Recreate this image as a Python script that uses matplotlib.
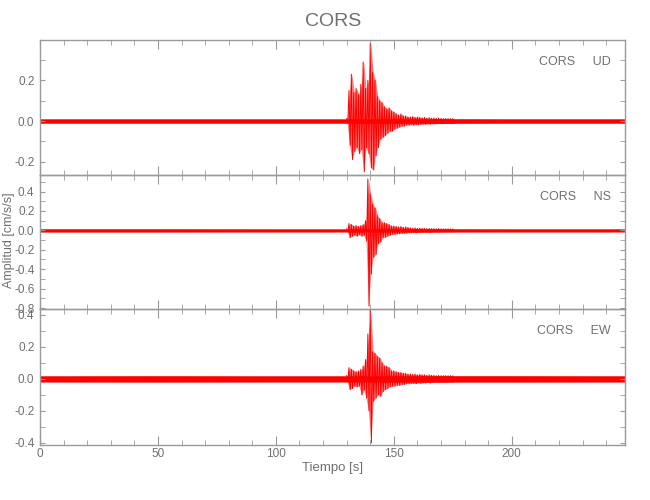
"""Three-component accelerogram, station CORS."""

import matplotlib
matplotlib.use("Agg")
import matplotlib.pyplot as plt
from matplotlib.ticker import MultipleLocator, FormatStrFormatter
import numpy as np

STATION = "CORS"
COMPONENTS = ["UD", "NS", "EW"]

# envelope of the strong-motion window, 1 s steps
event_t = list(range(130, 176))

ud_upper = [0.012, 0.15, 0.23, 0.14, 0.16, 0.13, 0.18, 0.29, 0.16, 0.20,
            0.38, 0.24, 0.20, 0.12, 0.10, 0.09, 0.07, 0.06, 0.065, 0.05,
            0.045, 0.035, 0.03, 0.035, 0.025, 0.025, 0.02, 0.02, 0.022, 0.018,
            0.02, 0.018, 0.016, 0.018, 0.015, 0.016, 0.014, 0.015, 0.013, 0.014,
            0.013, 0.012, 0.013, 0.012, 0.012, 0.012]
ud_lower = [-0.012, -0.12, -0.19, -0.15, -0.13, -0.16, -0.14, -0.25, -0.13, -0.16,
            -0.23, -0.24, -0.17, -0.13, -0.09, -0.08, -0.07, -0.06, -0.05, -0.05,
            -0.04, -0.035, -0.03, -0.025, -0.025, -0.02, -0.02, -0.018, -0.02, -0.017,
            -0.018, -0.016, -0.015, -0.016, -0.014, -0.015, -0.013, -0.014, -0.013, -0.012,
            -0.013, -0.012, -0.012, -0.012, -0.012, -0.012]

ns_upper = [0.015, 0.07, 0.06, 0.045, 0.05, 0.04, 0.05, 0.06, 0.10, 0.53,
            0.37, 0.27, 0.23, 0.15, 0.12, 0.08, 0.08, 0.07, 0.06, 0.045,
            0.045, 0.04, 0.035, 0.04, 0.03, 0.035, 0.03, 0.025, 0.022, 0.025,
            0.02, 0.022, 0.02, 0.02, 0.018, 0.02, 0.018, 0.018, 0.016, 0.018,
            0.016, 0.015, 0.016, 0.015, 0.015, 0.015]
ns_lower = [-0.015, -0.075, -0.06, -0.05, -0.06, -0.045, -0.06, -0.05, -0.11, -0.78,
            -0.45, -0.28, -0.25, -0.14, -0.12, -0.075, -0.07, -0.06, -0.05, -0.04,
            -0.04, -0.035, -0.035, -0.03, -0.03, -0.028, -0.025, -0.025, -0.022, -0.025,
            -0.02, -0.022, -0.02, -0.02, -0.018, -0.02, -0.018, -0.018, -0.016, -0.018,
            -0.016, -0.015, -0.016, -0.015, -0.015, -0.015]

ew_upper = [0.02, 0.07, 0.06, 0.05, 0.045, 0.05, 0.06, 0.08, 0.12, 0.28,
            0.43, 0.17, 0.16, 0.14, 0.13, 0.10, 0.08, 0.08, 0.07, 0.05,
            0.05, 0.045, 0.04, 0.04, 0.035, 0.035, 0.03, 0.03, 0.028, 0.03,
            0.025, 0.028, 0.025, 0.025, 0.022, 0.025, 0.022, 0.022, 0.02, 0.022,
            0.02, 0.02, 0.02, 0.02, 0.02, 0.02]
ew_lower = [-0.02, -0.067, -0.06, -0.045, -0.05, -0.045, -0.10, -0.07, -0.12, -0.20,
            -0.40, -0.14, -0.12, -0.10, -0.11, -0.08, -0.067, -0.06, -0.05, -0.046,
            -0.045, -0.04, -0.04, -0.035, -0.035, -0.03, -0.03, -0.028, -0.028, -0.03,
            -0.025, -0.028, -0.025, -0.025, -0.022, -0.025, -0.022, -0.022, -0.02, -0.022,
            -0.02, -0.02, -0.02, -0.02, -0.02, -0.02]

# background noise level outside the event
noise_t = [0, 50, 100, 130, 175, 200, 248]
ud_noise = [0.010, 0.010, 0.010, 0.010, 0.011, 0.010, 0.010]
ns_noise = [0.015, 0.015, 0.014, 0.014, 0.015, 0.014, 0.014]
ew_noise = [0.018, 0.019, 0.018, 0.018, 0.019, 0.019, 0.018]

ylims = [(-0.265, 0.398), (-0.81, 0.57), (-0.413, 0.436)]

RED = "#ff0000"
FRAME = "#9a9a9a"
TEXT = "#707070"

plt.rcParams["font.family"] = ["Liberation Sans", "DejaVu Sans"]


def drawTrace(ax, upper, lower, noise):
    ax.fill_between(noise_t, -np.array(noise), noise, color=RED, lw=0.3)
    t = np.array(event_t, dtype=float)
    # softer envelope underneath, zigzag between the extremes on top
    ax.fill_between(t + 0.25, lower, upper, color=RED, alpha=0.5, lw=0,
                    clip_on=False)
    xs = np.empty(2 * len(t))
    ys = np.empty(2 * len(t))
    xs[0::2] = t
    xs[1::2] = t + 0.5
    ys[0::2] = upper
    ys[1::2] = lower
    ax.plot(xs, ys, color=RED, lw=0.7, clip_on=False)


def styleAxis(ax, ylim, show_x):
    ax.set_xlim(0, 248)
    ax.set_ylim(*ylim)
    ax.xaxis.set_major_locator(MultipleLocator(50))
    ax.xaxis.set_minor_locator(MultipleLocator(10))
    ax.yaxis.set_major_locator(MultipleLocator(0.2))
    ax.yaxis.set_minor_locator(MultipleLocator(0.1))
    ax.yaxis.set_major_formatter(FormatStrFormatter("%.1f"))
    for sp in ax.spines.values():
        sp.set_color(FRAME)
        sp.set_linewidth(1.0)
    ax.tick_params(axis="both", which="both", direction="in", top=True,
                   right=True, color=FRAME, labelcolor=TEXT, labelsize=8.5)
    ax.tick_params(axis="x", which="major", length=6.5, pad=2)
    ax.tick_params(axis="x", which="minor", length=3.5)
    ax.tick_params(axis="y", which="both", length=3.5, pad=4)
    if not show_x:
        ax.tick_params(axis="x", labelbottom=False)


fig = plt.figure(figsize=(6.5, 5), dpi=100)
boxes = [[0.0615, 0.65, 0.9, 0.27],
         [0.0615, 0.382, 0.9, 0.268],
         [0.0615, 0.11, 0.9, 0.272]]
traces = [(ud_upper, ud_lower, ud_noise),
          (ns_upper, ns_lower, ns_noise),
          (ew_upper, ew_lower, ew_noise)]

for i, comp in enumerate(COMPONENTS):
    ax = fig.add_axes(boxes[i])
    ax.patch.set_alpha(0)
    drawTrace(ax, *traces[i])
    styleAxis(ax, ylims[i], show_x=(i == 2))
    ax.annotate(STATION + "     " + comp, xy=(1, 1), xycoords="axes fraction",
                xytext=(-10, -16), textcoords="offset points",
                ha="right", va="center", color=TEXT, fontsize=9)

fig.text(0.513, 1 - 22 / 500, STATION, ha="center", va="center",
         color=TEXT, fontsize=14)
fig.text(0.512, 1 - 468 / 500, "Tiempo [s]", ha="center", va="center",
         color=TEXT, fontsize=9.5)
fig.text(9 / 650, 1 - 240 / 500, "Amplitud [cm/s/s]", ha="center",
         va="center", rotation=90, color=TEXT, fontsize=9)

fig.savefig("out.png", dpi=100, facecolor="white")
